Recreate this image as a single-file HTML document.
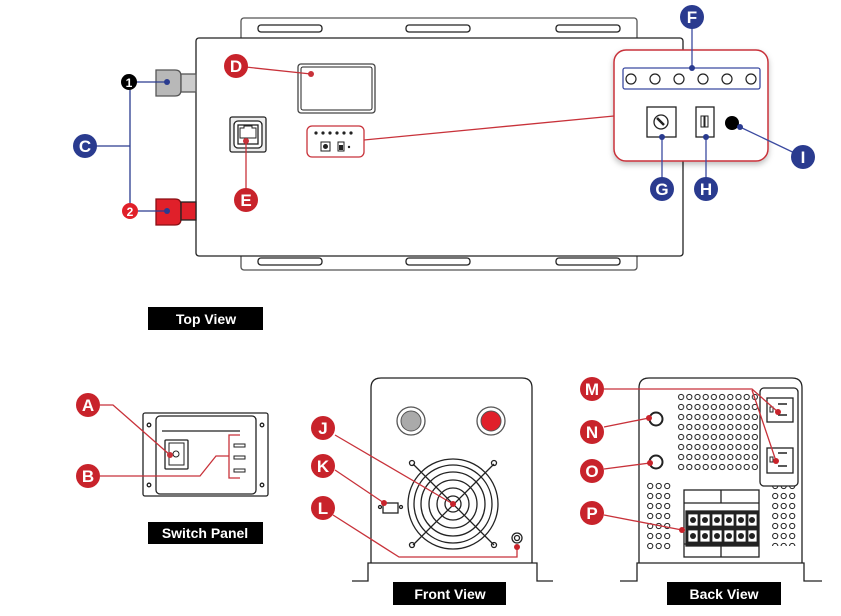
<!DOCTYPE html>
<html><head><meta charset="utf-8"><style>
html,body{margin:0;padding:0;background:#fff;}
svg{display:block;}
.b{font-family:"Liberation Sans",sans-serif;font-weight:bold;fill:#fff;text-anchor:middle;}
</style></head><body>
<svg width="841" height="616" viewBox="0 0 841 616" xmlns="http://www.w3.org/2000/svg">
<defs>
<pattern id="vh" x="677" y="392" width="8.2" height="10" patternUnits="userSpaceOnUse"><circle cx="4.1" cy="5" r="2.6" fill="none" stroke="#222" stroke-width="1"/></pattern>
<pattern id="vh2" x="646" y="481" width="8.5" height="10" patternUnits="userSpaceOnUse"><circle cx="4.2" cy="5" r="2.6" fill="none" stroke="#222" stroke-width="1"/></pattern>
<pattern id="vh3" x="771" y="481" width="8.5" height="10" patternUnits="userSpaceOnUse"><circle cx="4.2" cy="5" r="2.6" fill="none" stroke="#222" stroke-width="1"/></pattern>
<filter id="sh" x="-10%" y="-10%" width="120%" height="130%"><feDropShadow dx="0" dy="3" stdDeviation="3" flood-opacity="0.25"/></filter>
</defs>
<g fill="none" stroke="#222" stroke-width="1.3">
<rect x="241" y="18" width="396" height="30" rx="3" fill="#fff" stroke="#555"/>
<rect x="241" y="246" width="396" height="24" rx="3" fill="#fff" stroke="#555"/>
<rect x="258" y="25" width="64" height="7" rx="3"/><rect x="406" y="25" width="64" height="7" rx="3"/><rect x="556" y="25" width="64" height="7" rx="3"/>
<rect x="258" y="258" width="64" height="7" rx="3"/><rect x="406" y="258" width="64" height="7" rx="3"/><rect x="556" y="258" width="64" height="7" rx="3"/>
<rect x="196" y="38" width="487" height="218" rx="3" fill="#fff"/>
<rect x="298" y="64" width="77" height="49" rx="3" stroke="#444"/><rect x="301" y="67" width="71" height="43" rx="2" stroke-width="1"/>
<rect x="230" y="117" width="36" height="35" rx="2" fill="#eee"/><rect x="234" y="121" width="28" height="27" rx="4" fill="#fff"/><rect x="238" y="125" width="20" height="19" fill="#fff"/>
<path d="M240 128h4v-2h8v2h4v10h-16z" stroke-width="1"/>
<rect x="307" y="126" width="57" height="31" rx="5" stroke="#c8323a" fill="#fff"/>
<path d="M156 70h19q6 0 6 6v14q0 6-6 6h-19z" fill="#b8b8b8" stroke="#555"/><rect x="181" y="74" width="15" height="18" fill="#ccc" stroke="#555"/>
<path d="M156 199h19q6 0 6 6v14q0 6-6 6h-19z" fill="#e0202a" stroke="#8a0f14"/><rect x="181" y="202" width="15" height="18" fill="#e0202a" stroke="#222"/>
<rect x="614" y="50" width="154" height="111" rx="12" fill="#fff" stroke="#c8323a" stroke-width="1.5" filter="url(#sh)"/>
<rect x="623" y="68" width="137" height="21" rx="2" stroke="#3b4aa0"/>
<g stroke-width="1.2"><circle cx="631" cy="79" r="5"/><circle cx="655" cy="79" r="5"/><circle cx="679" cy="79" r="5"/><circle cx="703" cy="79" r="5"/><circle cx="727" cy="79" r="5"/><circle cx="751" cy="79" r="5"/></g>
<rect x="647" y="107" width="29" height="30"/><circle cx="661" cy="122" r="7"/><path d="M657 118l7 7" stroke-width="2.5"/>
<rect x="696" y="107" width="18" height="30"/><rect x="701" y="116" width="3" height="11" stroke-width="1"/><rect x="705" y="116" width="3" height="11" stroke-width="1"/>
</g>
<circle cx="732" cy="123" r="7" fill="#000"/>
<g fill="#222"><circle cx="316" cy="133" r="1.6"/><circle cx="323" cy="133" r="1.6"/><circle cx="330" cy="133" r="1.6"/><circle cx="337" cy="133" r="1.6"/><circle cx="344" cy="133" r="1.6"/><circle cx="351" cy="133" r="1.6"/><circle cx="349" cy="147" r="1.2"/></g>
<rect x="321" y="142" width="9" height="9" fill="none" stroke="#222"/><circle cx="325.5" cy="146.5" r="2.5" fill="#222"/>
<rect x="338" y="142" width="6" height="9" fill="none" stroke="#222"/><rect x="339" y="145" width="4" height="5" fill="#222"/>
<g stroke-width="1.3" fill="none">
<path d="M364 140L614 116" stroke="#c8323a"/>
<path d="M246 200V140" stroke="#c8323a"/>
<path d="M236 66L311 74" stroke="#c8323a"/>
<path d="M130 90V204M85 146H130M129 82H167M130 211H167" stroke="#2a3b8f"/>
<path d="M692 17V68M662 137V189M706 137V189M740 127L803 157" stroke="#3b4aa0"/>
</g>
<g fill="#2a3b8f"><circle cx="167" cy="82" r="3"/><circle cx="167" cy="211" r="3"/><circle cx="692" cy="68" r="3"/><circle cx="662" cy="137" r="3"/><circle cx="706" cy="137" r="3"/><circle cx="740" cy="127" r="3"/></g>
<g fill="#c8323a"><circle cx="311" cy="74" r="3"/><circle cx="246" cy="141" r="3"/></g>
<circle cx="129" cy="82" r="8" fill="#000"/><text x="129" y="87" class="b" font-size="12">1</text>
<circle cx="130" cy="211" r="8" fill="#e0202a"/><text x="130" y="216" class="b" font-size="12">2</text>
<g fill="#2a3b8f"><circle cx="85" cy="146" r="12"/><circle cx="692" cy="17" r="12"/><circle cx="662" cy="189" r="12"/><circle cx="706" cy="189" r="12"/><circle cx="803" cy="157" r="12"/></g>
<g class="b" font-size="17"><text x="85" y="152">C</text><text x="692" y="23">F</text><text x="662" y="195">G</text><text x="706" y="195">H</text><text x="803" y="163">I</text></g>
<g fill="#c8232b"><circle cx="236" cy="66" r="12"/><circle cx="246" cy="200" r="12"/></g>
<g class="b" font-size="17"><text x="236" y="72">D</text><text x="246" y="206">E</text></g>
<rect x="148" y="307" width="115" height="23" fill="#000"/><text x="206" y="324" class="b" font-size="14">Top View</text>

<g fill="none" stroke="#222" stroke-width="1.3">
<rect x="143" y="413" width="125" height="83" rx="2"/>
<rect x="156" y="416" width="100" height="78" rx="4"/>
<path d="M162 431H240"/>
<circle cx="149" cy="425" r="1.8"/><circle cx="262" cy="425" r="1.8"/><circle cx="149" cy="485" r="1.8"/><circle cx="262" cy="485" r="1.8"/>
<rect x="165" y="440" width="23" height="29" rx="1"/><rect x="169" y="443" width="15" height="22" stroke-width="1"/><circle cx="176" cy="454" r="3" stroke-width="1"/>
<rect x="234" y="444" width="11" height="3" stroke-width="1"/><rect x="234" y="456" width="11" height="3" stroke-width="1"/><rect x="234" y="469" width="11" height="3" stroke-width="1"/>
</g>
<g fill="none" stroke="#c8323a" stroke-width="1.3">
<path d="M240 435H229V478H240"/>
<path d="M100 405H113L170 455"/>
<path d="M100 476H200L216 456H229"/>
</g>
<circle cx="170" cy="455" r="3" fill="#c8323a"/>
<g fill="#c8232b"><circle cx="88" cy="405" r="12"/><circle cx="88" cy="476" r="12"/></g>
<g class="b" font-size="17"><text x="88" y="411">A</text><text x="88" y="482">B</text></g>
<rect x="148" y="522" width="115" height="22" fill="#000"/><text x="205" y="538" class="b" font-size="14">Switch Panel</text>

<g fill="none" stroke="#222" stroke-width="1.3">
<path d="M371 563V388q0-10 10-10H522q10 0 10 10V563"/>
<path d="M352 581H368V563H537V581H553"/>
<circle cx="411" cy="421" r="14" stroke="#555"/><circle cx="491" cy="421" r="14" stroke="#555"/>
<circle cx="453" cy="504" r="8"/><circle cx="453" cy="504" r="16"/><circle cx="453" cy="504" r="24"/><circle cx="453" cy="504" r="32"/><circle cx="453" cy="504" r="39"/><circle cx="453" cy="504" r="45"/>
<path d="M413 464L494 545M494 464L413 545"/>
<circle cx="412" cy="463" r="2.5"/><circle cx="494" cy="463" r="2.5"/><circle cx="412" cy="545" r="2.5"/><circle cx="494" cy="545" r="2.5"/>
<rect x="383" y="503" width="15" height="10"/><circle cx="380" cy="507" r="1.5"/><circle cx="401" cy="507" r="1.5"/>
<circle cx="517" cy="538" r="5"/><circle cx="517" cy="538" r="2.5"/>
</g>
<circle cx="411" cy="421" r="10" fill="#aaa" stroke="#555"/>
<circle cx="491" cy="421" r="10" fill="#e0202a" stroke="#555"/>
<g fill="none" stroke="#c8323a" stroke-width="1.3">
<path d="M335 435L453 504"/><path d="M335 470L384 503"/><path d="M333 515L399 557H517V547"/>
</g>
<g fill="#c8232b"><circle cx="453" cy="504" r="3"/><circle cx="384" cy="503" r="3"/><circle cx="517" cy="547" r="3"/></g>
<g fill="#c8232b"><circle cx="323" cy="428" r="12"/><circle cx="323" cy="466" r="12"/><circle cx="323" cy="508" r="12"/></g>
<g class="b" font-size="17"><text x="323" y="434">J</text><text x="323" y="472">K</text><text x="323" y="514">L</text></g>
<rect x="393" y="582" width="113" height="23" fill="#000"/><text x="450" y="599" class="b" font-size="14">Front View</text>

<rect x="677" y="392" width="81" height="80" fill="url(#vh)"/>
<rect x="646" y="481" width="25" height="70" fill="url(#vh2)"/>
<rect x="771" y="486" width="26" height="60" fill="url(#vh3)"/>
<g fill="none" stroke="#222" stroke-width="1.3">
<path d="M639 563V388q0-10 10-10H792q10 0 10 10V563"/>
<path d="M620 581H637V563H804V581H822"/>
<rect x="760" y="388" width="38" height="98" rx="4" fill="#fff"/>
<rect x="767" y="398" width="26" height="24"/><rect x="767" y="448" width="26" height="25"/>
<path d="M778 404h9M778 415h9M778 453h9M778 466h9" stroke-width="1.5"/>
<path d="M770 407h3v5h-3zM770 457h3v5h-3z" stroke-width="1"/>
<circle cx="656" cy="419" r="6.5" stroke-width="2"/><circle cx="656" cy="462" r="6.5" stroke-width="2"/>
<rect x="684" y="490" width="75" height="67" fill="#fff"/>
<path d="M684 503H759M721 490V503M684 544H759M721 544V557"/>
<rect x="686" y="511" width="72" height="35" fill="#222"/>
</g>
<g fill="#fff" stroke="#222" stroke-width="0.8">
<rect x="688" y="514" width="10" height="12"/><rect x="700" y="514" width="10" height="12"/><rect x="712" y="514" width="10" height="12"/><rect x="724" y="514" width="10" height="12"/><rect x="736" y="514" width="10" height="12"/><rect x="748" y="514" width="9" height="12"/>
<rect x="688" y="530" width="10" height="12"/><rect x="700" y="530" width="10" height="12"/><rect x="712" y="530" width="10" height="12"/><rect x="724" y="530" width="10" height="12"/><rect x="736" y="530" width="10" height="12"/><rect x="748" y="530" width="9" height="12"/>
</g>
<g fill="#222"><circle cx="693" cy="520" r="3"/><circle cx="705" cy="520" r="3"/><circle cx="717" cy="520" r="3"/><circle cx="729" cy="520" r="3"/><circle cx="741" cy="520" r="3"/><circle cx="752" cy="520" r="3"/><circle cx="693" cy="536" r="3"/><circle cx="705" cy="536" r="3"/><circle cx="717" cy="536" r="3"/><circle cx="729" cy="536" r="3"/><circle cx="741" cy="536" r="3"/><circle cx="752" cy="536" r="3"/></g>
<g fill="none" stroke="#c8323a" stroke-width="1.3">
<path d="M604 389H752L778 412M752 390L776 461"/>
<path d="M604 427L649 418"/><path d="M604 469L650 463"/><path d="M604 515L682 530"/>
</g>
<g fill="#c8232b"><circle cx="778" cy="412" r="3"/><circle cx="776" cy="461" r="3"/><circle cx="649" cy="418" r="3"/><circle cx="650" cy="463" r="3"/><circle cx="682" cy="530" r="3"/></g>
<g fill="#c8232b"><circle cx="592" cy="389" r="12"/><circle cx="592" cy="432" r="12"/><circle cx="592" cy="471" r="12"/><circle cx="592" cy="513" r="12"/></g>
<g class="b" font-size="17"><text x="592" y="395">M</text><text x="592" y="438">N</text><text x="592" y="477">O</text><text x="592" y="519">P</text></g>
<rect x="667" y="582" width="114" height="23" fill="#000"/><text x="724" y="599" class="b" font-size="14">Back View</text>
</svg>
</body></html>
